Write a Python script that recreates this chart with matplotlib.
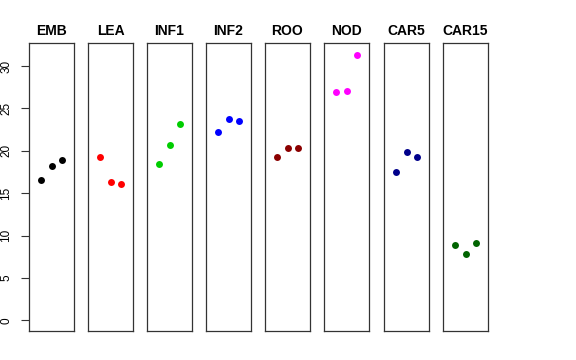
import matplotlib
matplotlib.use('Agg')
import matplotlib.pyplot as plt
import numpy as np

plt.rcParams['font.family'] = ['Liberation Sans', 'DejaVu Sans']

tissues = ['EMB', 'LEA', 'INF1', 'INF2', 'ROO', 'NOD', 'CAR5', 'CAR15']
colors = ['black', 'red', '#00CD00', 'blue', '#8B0000', 'magenta', '#00008B', '#006400']
values = [
    [16.5, 18.2, 18.9],
    [19.3, 16.3, 16.1],
    [18.4, 20.7, 23.2],
    [22.2, 23.7, 23.5],
    [19.3, 20.3, 20.3],
    [26.9, 27.0, 31.3],
    [17.5, 19.9, 19.3],
    [8.9, 7.8, 9.1],
]
yticks = [0, 5, 10, 15, 20, 25, 30]

W, H = 576, 360
fig = plt.figure(figsize=(W / 100, H / 100), dpi=100)

# panel geometry in pixels
lefts = [29, 88, 147, 206, 265, 324, 384, 443]
pw = 45
top, bottom = 43.5, 331

ymax = 31.4
ypad = 0.04 * ymax
for i, name in enumerate(tissues):
    ax = fig.add_axes([lefts[i] / W, (H - bottom) / H, pw / W, (bottom - top) / H])
    x = np.arange(1, len(values[i]) + 1)
    ax.plot(x, values[i], 'o', color=colors[i], markersize=5, markeredgewidth=0)
    ax.set_xlim(-0.16, 4.16)
    ax.set_ylim(-ypad, ymax + ypad)
    ax.set_xticks([])
    for s in ax.spines.values():
        s.set_color('#333333')
        s.set_linewidth(0.9)
    ax.set_title(name, fontsize=10, fontweight='bold', pad=6)
    if i == 0:
        ax.set_yticks(yticks)
        ax.set_yticklabels([str(t) for t in yticks], fontsize=8.5)
        ax.tick_params(axis='y', length=6, width=0.8, color='#333333', pad=6,
                       labelrotation=90)
        for lab in ax.get_yticklabels():
            lab.set_va('center')
    else:
        ax.set_yticks([])

fig.savefig('out.png', dpi=100)
